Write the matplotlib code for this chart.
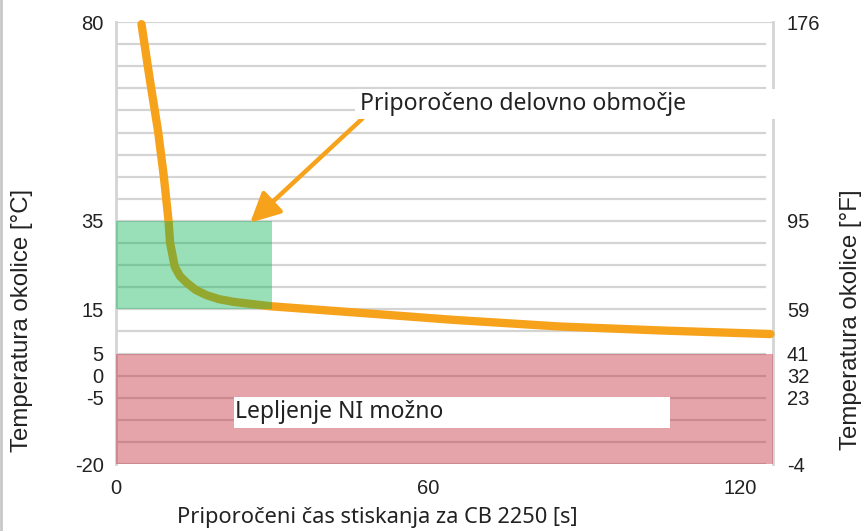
import matplotlib
matplotlib.use("Agg")
import matplotlib.pyplot as plt
from matplotlib.patches import Rectangle
from matplotlib.lines import Line2D

# ---- data ----
time_s = [4.9, 6.5, 8.1, 9.2, 10.1, 10.4, 11.3, 12.3, 13.6, 15.3, 17.4, 19.8, 22.5, 29.6, 46.9, 65.0, 85.4, 105.0, 125.8]
temp_c = [79.5, 67.0, 55.2, 45.0, 35.0, 30.0, 24.6, 22.5, 21.0, 19.4, 18.2, 17.3, 16.7, 15.7, 14.2, 12.6, 11.1, 10.2, 9.4]

left_ticks = [80, 35, 15, 5, 0, -5, -20]
right_labels = ["176", "95", "59", "41", "32", "23", "-4"]
x_ticks = [0, 60, 120]

green_zone = (0, 30, 15, 35)      # x0, x1, y0, y1
red_zone = (0, 126.3, -20, 5)

xlabel = "Priporočeni čas stiskanja za CB 2250 [s]"
ylabel_c = "Temperatura okolice [°C]"
ylabel_f = "Temperatura okolice [°F]"
note_top = "Priporočeno delovno območje"
note_bottom = "Lepljenje NI možno"

ORANGE = "#f7a21b"
GRID = "#d4d4d4"
TXT = "#222222"
HUM = "Noto Sans"

fig = plt.figure(figsize=(8.68, 5.31), dpi=100)
ax = fig.add_axes([116/868, 1-464/531, (773-116)/868, (464-22)/531])
ax.set_xlim(0, 126.3)
ax.set_ylim(-20, 80)

# gridlines
for g in range(-20, 81, 5):
    ax.axhline(g, xmin=0, xmax=(1.0 if g == 80 else 0.988), color=GRID, lw=1.6, zorder=1)

# curve
ax.plot(time_s, temp_c, color=ORANGE, lw=6, solid_capstyle="round", solid_joinstyle="round",
        zorder=3, clip_on=False)

# zones
gx0, gx1, gy0, gy1 = green_zone
ax.add_patch(Rectangle((gx0, gy0), gx1-gx0, gy1-gy0, facecolor="#00b250", alpha=0.4, lw=0, zorder=4))
rx0, rx1, ry0, ry1 = red_zone
ax.add_patch(Rectangle((rx0, ry0), rx1-rx0, ry1-ry0, facecolor="#c01c2b", alpha=0.4, lw=0, zorder=4))

# spines
for s in ["top", "bottom"]:
    ax.spines[s].set_visible(False)
for s in ["left", "right"]:
    ax.spines[s].set_color(GRID)
    ax.spines[s].set_linewidth(2)

ax.set_yticks(left_ticks)
ax.set_yticklabels([str(t) for t in left_ticks])
ax.set_xticks(x_ticks)
ax.set_xticklabels([str(t) for t in x_ticks])
ax.tick_params(axis="both", length=0, labelsize=14.5, colors=TXT)
ax.tick_params(axis="y", pad=9)
ax.tick_params(axis="x", pad=11)
for lab in ax.get_xticklabels() + ax.get_yticklabels():
    lab.set_family("Liberation Sans")

ax2 = ax.twinx()
ax2.set_ylim(ax.get_ylim())
ax2.set_yticks(left_ticks)
ax2.set_yticklabels(right_labels)
ax2.tick_params(axis="y", length=0, labelsize=14.5, colors=TXT, pad=10)
for lab in ax2.get_yticklabels():
    lab.set_family("Liberation Sans")
for s in ax2.spines.values():
    s.set_visible(False)

fig.text(377/868, 1-518/531, xlabel, ha="center", va="center", family=HUM, fontsize=15.7, color=TXT)
fig.text(22/868, 1-320/531, ylabel_c, rotation=90, ha="center", va="center",
         family="Liberation Sans", fontsize=17.3, color=TXT)
fig.text(851/868, 1-320/531, ylabel_f, rotation=90, ha="center", va="center",
         family="Liberation Sans", fontsize=17.3, color=TXT)

# white label boxes (inside the axes so texts can sit on top)
ax.add_patch(Rectangle((355/868, 1-119/531), (777-355)/868, 30/531, transform=fig.transFigure,
                       facecolor="white", edgecolor="none", zorder=7, clip_on=False))
ax.add_patch(Rectangle((234/868, 1-428/531), (670-234)/868, 31/531, transform=fig.transFigure,
                       facecolor="white", edgecolor="none", zorder=7, clip_on=False))
ax.text(46.9, 61.4, note_top, family=HUM, fontsize=16.6, color=TXT, va="center", ha="left", zorder=10)
ax.text(22.9, -8.2, note_bottom, family=HUM, fontsize=16.5, color=TXT, va="center", ha="left", zorder=10)

# arrow
ax.annotate("", xy=(25.8, 34.6), xytext=(47.4, 58.2),
            arrowprops=dict(arrowstyle="-|>,head_length=0.9,head_width=0.45", color=ORANGE, lw=3.2,
                            shrinkA=0, shrinkB=0, mutation_scale=20),
            zorder=6)

# figure left border
fig.add_artist(Line2D([1/868, 1/868], [0, 1], transform=fig.transFigure, color="#c8c8c8", lw=2))

fig.savefig("out.png", dpi=100)
